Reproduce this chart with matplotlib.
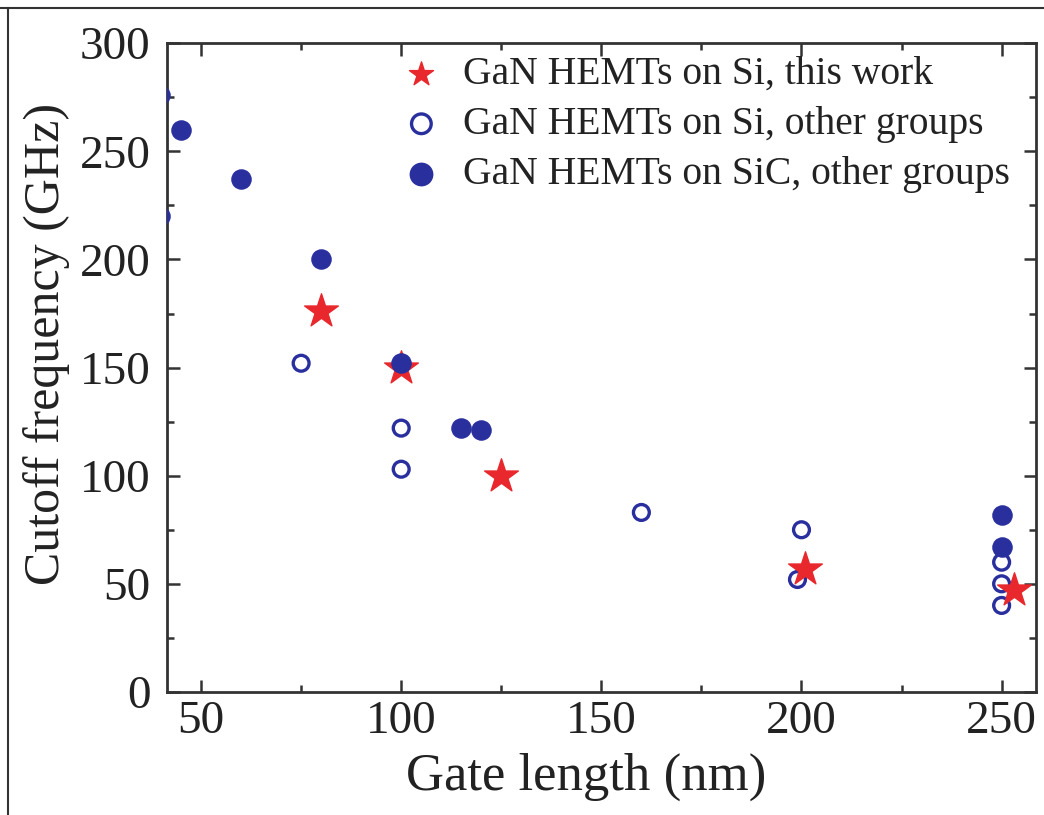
import numpy as np
import matplotlib.pyplot as plt
from matplotlib.ticker import MultipleLocator

plt.rcParams['font.family'] = ['Liberation Serif', 'DejaVu Serif']

# GaN HEMTs on Si, this work
this_x = [80, 100, 125, 201, 253]
this_y = [176, 150, 100, 57, 47]
# GaN HEMTs on Si, other groups
si_x = [75, 100, 100, 160, 200, 199, 250, 250, 250]
si_y = [152, 122, 103, 83, 75, 52, 60, 50, 40]
# GaN HEMTs on SiC, other groups
sic_x = [39.8, 39.8, 45, 60, 80, 100, 115, 120, 250, 250]
sic_y = [276, 220, 260, 237, 200, 152, 122, 121, 82, 67]

blue = '#2a2f9e'
red = '#e8282c'

fig = plt.figure(figsize=(10.44, 8.15), dpi=100)
ax = fig.add_axes([0.16, 0.151, 0.832, 0.796])

ax.scatter(si_x, si_y, s=130, facecolors='none', edgecolors=blue, linewidths=2.4,
           label='GaN HEMTs on Si, other groups', zorder=3)
ax.scatter(this_x, this_y, s=650, marker='*', color=red,
           label='GaN HEMTs on Si, this work', zorder=4)
ax.scatter(sic_x, sic_y, s=190, color=blue,
           label='GaN HEMTs on SiC, other groups', zorder=5)

ax.set_xlim(41.5, 258.5)
ax.set_ylim(0, 300)
ax.xaxis.set_major_locator(MultipleLocator(50))
ax.xaxis.set_minor_locator(MultipleLocator(25))
ax.yaxis.set_major_locator(MultipleLocator(50))
ax.yaxis.set_minor_locator(MultipleLocator(25))
ax.tick_params(which='both', direction='in', top=True, right=True, width=1.8, colors='#333333')
ax.tick_params(which='major', length=9, labelsize=34, labelcolor='#222222')
ax.tick_params(axis='x', which='major', pad=6)
ax.tick_params(axis='y', which='major', pad=12)
ax.tick_params(which='minor', length=5)
for sp in ax.spines.values():
    sp.set_linewidth(2)
    sp.set_color('#333333')

ax.set_xlabel('Gate length (nm)', fontsize=38, color='#222222')
ax.set_ylabel('Cutoff frequency (GHz)', fontsize=36, color='#222222')
ax.xaxis.set_label_coords(0.482, -0.094)
ax.yaxis.set_label_coords(-0.112, 0.537)

h, l = ax.get_legend_handles_labels()
order = [1, 0, 2]
leg = ax.legend([h[i] for i in order], [l[i] for i in order], loc='upper left',
                bbox_to_anchor=(0.229, 1.035), frameon=False, fontsize=28.5,
                handletextpad=0.55, labelspacing=0.33, scatterpoints=1,
                labelcolor='#222222', handlelength=1.0)
for hd, sz in zip(leg.legend_handles, [330, 200, 260]):
    hd.set_sizes([sz])

# outer frame lines of the cropped picture (top and left)
fig.add_artist(plt.Line2D([0, 1], [0.99, 0.99], color='#333333', lw=1.5))
fig.add_artist(plt.Line2D([0.008, 0.008], [0, 0.99], color='#333333', lw=1.5))

fig.savefig('out.png', dpi=100)
